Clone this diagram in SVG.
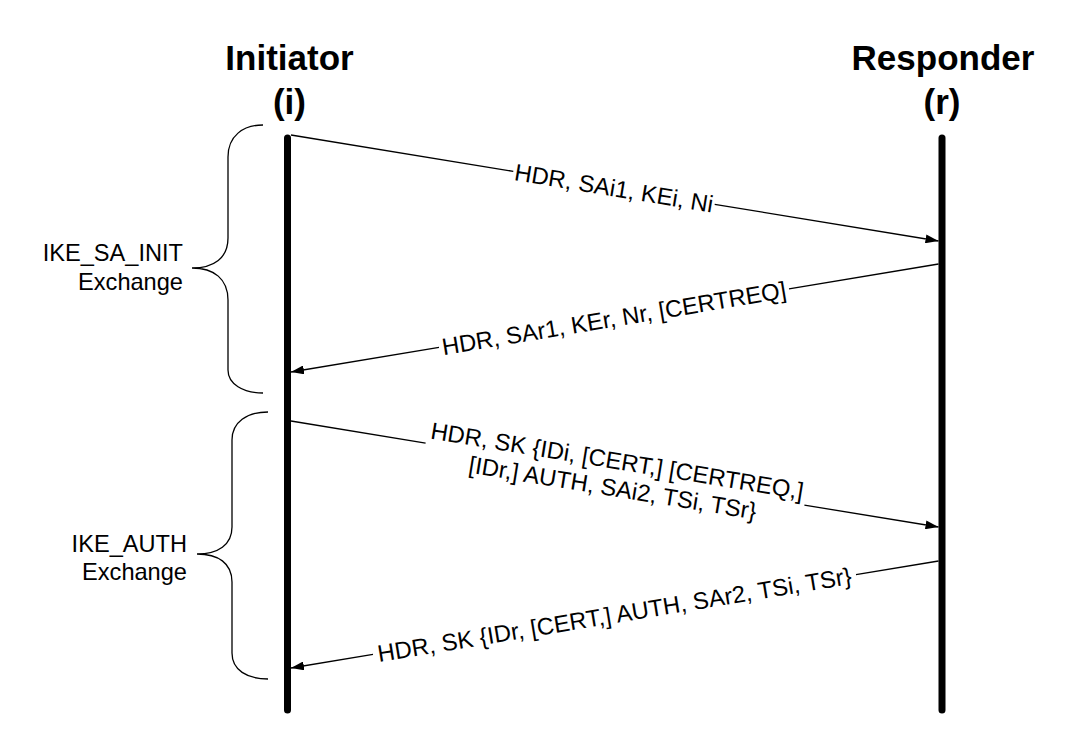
<svg xmlns="http://www.w3.org/2000/svg" width="1080" height="733" viewBox="0 0 1080 733">
<style>
.title{font-family:"Liberation Sans",Arial,sans-serif;font-weight:bold;font-size:35px;fill:#000;text-anchor:middle}
.lbl{font-family:"Liberation Sans",Arial,sans-serif;font-size:23.8px;fill:#000;text-anchor:middle}
.side{font-family:"Liberation Sans",Arial,sans-serif;font-size:23.6px;fill:#000;text-anchor:end}
.life{stroke:#000;stroke-width:7;stroke-linecap:round;fill:none}
.msg{stroke:#000;stroke-width:1.3;fill:none}
.brace{stroke:#000;stroke-width:1.3;fill:none}
</style>
<defs>
<marker id="arr" markerUnits="userSpaceOnUse" viewBox="0 0 13 9" refX="13" refY="4.5" markerWidth="13" markerHeight="9" orient="auto">
<path d="M0,0 L13,4.5 L0,9 z" fill="#000"/>
</marker>
</defs>
<rect width="1080" height="733" fill="#fff"/>

<g id="initiator">
<text class="title" x="289.5" y="70">Initiator</text>
<text class="title" x="289.5" y="114">(i)</text>
<line class="life" x1="287.5" y1="138" x2="287.5" y2="710"/>
</g>

<g id="responder">
<text class="title" x="943" y="70">Responder</text>
<text class="title" x="942" y="114">(r)</text>
<line class="life" x1="942" y1="138" x2="942" y2="710"/>
</g>

<g id="ike_sa_init">
<path class="brace" d="M263,125 C243,125 228,136 228,157 L228,238 C228,258 214,268 192,268 C214,268 228,279 228,300 L228,370 C228,384 243,393 263,393"/>
<text class="side" x="183" y="261">IKE_SA_INIT</text>
<text class="side" x="183" y="290">Exchange</text>
</g>

<g id="ike_auth">
<path class="brace" d="M268,412 C247,412 232,422 232,440 L232,527 C232,545 218,554 197,554 C218,554 232,563 232,582 L232,653 C232,670 247,679 268,679"/>
<text class="side" x="187" y="552">IKE_AUTH</text>
<text class="side" x="187" y="580">Exchange</text>
</g>

<g id="connectors">
<path class="msg" marker-end="url(#arr)" d="M291,135 L513.3,171.4 M714.7,204.4 L938.5,241"/>
<text class="lbl" transform="translate(614,187.9) rotate(9.3)" x="0" y="8.5">HDR, SAi1, KEi, Ni</text>

<path class="msg" marker-end="url(#arr)" d="M938.5,264 L789,288.9 M439,347.3 L291,372"/>
<text class="lbl" transform="translate(614,318.1) rotate(-9.477)" x="0" y="8.5">HDR, SAr1, KEr, Nr, [CERTREQ]</text>

<path class="msg" marker-end="url(#arr)" d="M291,421 L425.6,443.1 M804.4,505.1 L938.5,527"/>
<text class="lbl" transform="translate(615,474.1) rotate(9.3)"><tspan x="0" y="-5.2">HDR, SK {IDi, [CERT,] [CERTREQ,]</tspan><tspan x="0" y="22.2">[IDr,] AUTH, SAi2, TSi, TSr}</tspan></text>

<path class="msg" marker-end="url(#arr)" d="M938.5,561 L856,574.6 M373,654.4 L291,668"/>
<text class="lbl" transform="translate(614.5,614.5) rotate(-9.39)" x="0" y="8.5">HDR, SK {IDr, [CERT,] AUTH, SAr2, TSi, TSr}</text>
</g>
</svg>
